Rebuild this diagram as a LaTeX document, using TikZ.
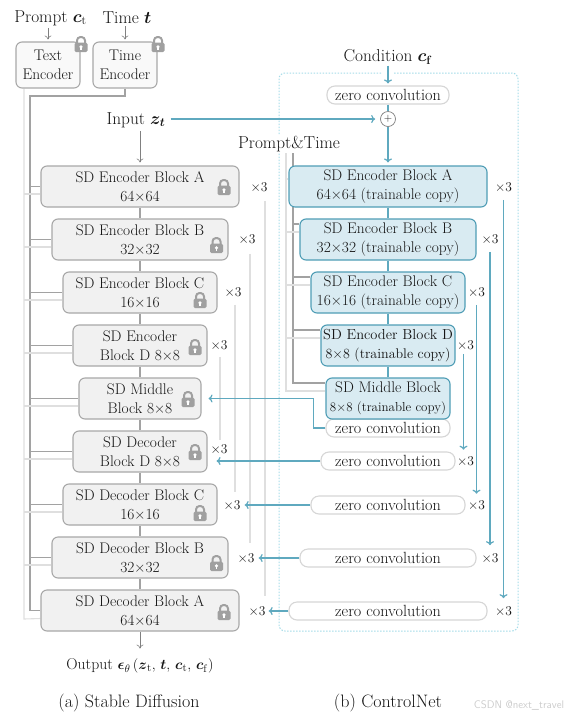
\documentclass[tikz,border=0pt]{standalone}
\usepackage{amsmath,amssymb}
\usepackage{tikz}
\usetikzlibrary{arrows,arrows.meta,backgrounds}

\definecolor{lineteal}{HTML}{5FA9BF}
\definecolor{borderteal}{HTML}{4F9DB5}
\definecolor{fillteal}{HTML}{D9EBF2}
\definecolor{dotteal}{HTML}{A5DBE8}
\definecolor{blockgray}{HTML}{F1F1F1}
\definecolor{bordergray}{HTML}{A8A8A8}
\definecolor{darkline}{HTML}{A2A2A2}
\definecolor{lightline}{HTML}{DFDFDF}
\definecolor{lockgray}{HTML}{A0A0A0}
\definecolor{zeroborder}{HTML}{D6D6D6}
\definecolor{txt}{HTML}{151515}

\begin{document}
\begin{tikzpicture}[
x=1pt,y=-1pt,
every node/.style={text=txt},
obj/.style={font=\fontsize{17.3}{20}\selectfont,inner sep=1pt},
captext/.style={font=\fontsize{18}{21}\selectfont,inner sep=1pt},
times/.style={font=\fontsize{13.5}{15}\selectfont,inner sep=0pt},
block/.style={draw=bordergray,fill=blockgray,line width=1.1pt,rounded corners=6pt,minimum width=#1,minimum height=41pt,inner sep=0pt,align=center,font=\fontsize{15.4}{19}\selectfont},
ctrl/.style={block=#1,draw=borderteal,fill=fillteal},
textenc/.style={block=64pt,minimum height=46pt,fill=white!60!blockgray},
zeroconv/.style={draw=zeroborder,fill=white,line width=1.1pt,rounded corners=8pt,minimum width=#1,minimum height=18pt,inner sep=0pt,font=\fontsize{16.2}{17}\selectfont},
arrow/.style={-{To[length=4pt,width=7pt]},draw=gray,line width=0.6pt},
tealarrow/.style={-{To[length=4pt,width=8pt]},draw=lineteal,line width=1.2pt},
tealline/.style={draw=lineteal,line width=1.2pt},
trunk/.style={draw=darkline,line width=1.1pt},
pale/.style={draw=lightline,line width=1.1pt},
pics/padlock/.style={code={
\draw[lockgray,line width=2pt,rounded corners=3.5pt] (-4,0) -- (-4,-7) -- (4,-7) -- (4,0);
\fill[lockgray,rounded corners=1.5pt] (-6.5,-1.5) rectangle (6.5,8);
\fill[white] (0,2.8) circle (1.8);
\fill[white] (-0.8,3) rectangle (0.8,6);
}}
]

\useasboundingbox (0,0) rectangle (571,716);

\node[obj](prompt) at (50.5,18) {Prompt $\boldsymbol{c}_{\mathrm{t}}$};

\node[obj](time) at (127,18) {Time $\boldsymbol{t}$};

\node[textenc](textE) at (48,65) {Text\\Encoder};

\node[textenc](timeE) at (125,65) {Time\\Encoder};

\pic at (81,44) {padlock};

\pic at (158,44) {padlock};

\node[obj](inputz) at (136,120) {Input $\boldsymbol{z_t}$};

\node[block=198pt](encA) at (140,186.5) {SD Encoder Block A\\64×64};

\node[block=176pt](encB) at (140,239.5) {SD Encoder Block B\\32×32};

\node[block=154pt](encC) at (140,292.5) {SD Encoder Block C\\16×16};

\node[block=134pt](encD) at (140,345.5) {SD Encoder\\Block D 8×8};

\node[block=122pt](mid) at (140,398.5) {SD Middle\\Block 8×8};

\node[block=134pt](decD) at (140,451.5) {SD Decoder\\Block D 8×8};

\node[block=154pt](decC) at (140,504.5) {SD Decoder Block C\\16×16};

\node[block=176pt](decB) at (140,557.5) {SD Decoder Block B\\32×32};

\node[block=198pt](decA) at (140,610.5) {SD Decoder Block A\\64×64};

\pic at (224,187) {padlock};

\pic at (216.5,245) {padlock};

\pic at (200,300) {padlock};

\pic at (195,347) {padlock};

\pic at (188,399) {padlock};

\pic at (195,452) {padlock};

\pic at (200,513) {padlock};

\pic at (216.5,563) {padlock};

\pic at (224,612) {padlock};

\node[obj,font=\fontsize{15.7}{19}\selectfont](output) at (140,666) {Output $\boldsymbol{\epsilon}_{\theta}\,(\boldsymbol{z}_{\mathrm{t}},\,\boldsymbol{t},\,\boldsymbol{c}_{\mathrm{t}},\,\boldsymbol{c}_{\mathrm{f}})$};

\node[captext](capA) at (129,703) {(a) Stable Diffusion};

\node[captext](capB) at (388,703) {(b) ControlNet};

\node[inner sep=0pt,text=lightline!80!gray,font=\sffamily\fontsize{11}{12}\selectfont](mark) at (519,705) {CSDN @next\_travel};

\node[obj](cond) at (388,57) {Condition $\boldsymbol{c}_{\mathbf{f}}$};

\node[zeroconv=122pt](zeroT) at (388,95) {zero convolution};

\node[draw=gray,fill=white,circle,inner sep=0pt,minimum size=15pt,line width=0.7pt,font=\fontsize{11}{11}\selectfont](plus) at (388,119) {+};

\node[obj,fill=white](promptT) at (289,144) {Prompt\&Time};

\node[zeroconv=124pt](zeroM) at (388,428) {zero convolution};

\node[ctrl=198pt](ctrlA) at (388,186.5) {SD Encoder Block A\\64×64 (trainable copy)};

\node[ctrl=176pt](ctrlB) at (388,239.5) {SD Encoder Block B\\32×32 (trainable copy)};

\node[ctrl=154pt](ctrlC) at (388,292.5) {SD Encoder Block C\\16×16 (trainable copy)};

\node[ctrl=134pt,font=\fontsize{14.5}{19}\selectfont](ctrlD) at (388,345.5) {SD Encoder Block D\\{\fontsize{14}{19}\selectfont 8×8 (trainable copy)}};

\node[ctrl=124pt](ctrlM) at (388,398.5) {SD Middle Block\\{\fontsize{13}{15}\selectfont 8×8 (trainable copy)}};

\node[zeroconv=134pt](zeroD) at (388,461) {zero convolution};

\node[zeroconv=154pt](zeroC) at (388,505) {zero convolution};

\node[zeroconv=176pt](zeroB) at (388,558) {zero convolution};

\node[zeroconv=198pt](zeroA) at (388,611) {zero convolution};

\node[times](xEncA) at (259,187) {×3};

\node[times](xEncB) at (247,239) {×3};

\node[times](xEncC) at (233,292) {×3};

\node[times](xEncD) at (219,345) {×3};

\node[times](xDecD) at (219,449) {×3};

\node[times](xDecC) at (232,505) {×3};

\node[times](xDecB) at (246,558) {×3};

\node[times](xDecA) at (257,611) {×3};

\node[times](xCtrlA) at (503.5,187) {×3};

\node[times](xCtrlB) at (490,239) {×3};

\node[times](xCtrlC) at (476.5,292) {×3};

\node[times](xCtrlD) at (465.5,345) {×3};

\node[times](xZeroD) at (465.5,461) {×3};

\node[times](xZeroC) at (476.5,505) {×3};

\node[times](xZeroB) at (490,558) {×3};

\node[times](xZeroA) at (503.5,611) {×3};

% trunks stay behind the blocks
\begin{scope}[on background layer]

\draw[dotteal,line width=1pt,dash pattern=on 1.5pt off 1.5pt,rounded corners=6pt] (394,73) -- (518,73) -- (518,631) -- (279,631) -- (279,73) -- (382,73);

\coordinate (darkT) at (30,96);

\coordinate (lightT) at (24,619);

\coordinate (darkC) at (293,153);

\coordinate (lightC) at (286,153);

\draw[trunk] (timeE.south) |- (darkT) |- (decA.west);

\draw[pale] (textE.south -| lightT) -- (lightT) -- ([yshift=-8pt]decA.west);

\draw[trunk] (darkT |- encA.west) -- (encA.west);

\draw[trunk] (darkT |- encB.west) -- (encB.west);

\draw[trunk] (darkT |- encC.west) -- (encC.west);

\draw[trunk] (darkT |- encD.west) -- (encD.west);

\draw[trunk] (darkT |- mid.west) -- (mid.west);

\draw[trunk] (darkT |- decD.west) -- (decD.west);

\draw[trunk] (darkT |- decC.west) -- (decC.west);

\draw[trunk] (darkT |- decB.west) -- (decB.west);

\draw[pale] ([yshift=-7.5pt]lightT |- encA.west) -- ([yshift=-7.5pt]encA.west);

\draw[pale] ([yshift=-7.5pt]lightT |- encB.west) -- ([yshift=-7.5pt]encB.west);

\draw[pale] ([yshift=-7.5pt]lightT |- encC.west) -- ([yshift=-7.5pt]encC.west);

\draw[pale] ([yshift=-7.5pt]lightT |- encD.west) -- ([yshift=-7.5pt]encD.west);

\draw[pale] ([yshift=-7.5pt]lightT |- mid.west) -- ([yshift=-7.5pt]mid.west);

\draw[pale] ([yshift=-7.5pt]lightT |- decD.west) -- ([yshift=-7.5pt]decD.west);

\draw[pale] ([yshift=-7.5pt]lightT |- decC.west) -- ([yshift=-7.5pt]decC.west);

\draw[pale] ([yshift=-7.5pt]lightT |- decB.west) -- ([yshift=-7.5pt]decB.west);

\draw[trunk] (encA) -- (encB);

\draw[trunk] (encB) -- (encC);

\draw[trunk] (encC) -- (encD);

\draw[trunk] (encD) -- (mid);

\draw[trunk] (mid) -- (decD);

\draw[trunk] (decD) -- (decC);

\draw[trunk] (decC) -- (decB);

\draw[trunk] (decB) -- (decA);

\draw[trunk] (darkC) |- ([yshift=15.5pt]ctrlM.west);

\draw[pale] (lightC) |- ([yshift=7.5pt]ctrlM.west);

\draw[trunk] ([yshift=15.5pt]darkC |- ctrlB.west) -- ([yshift=15.5pt]ctrlB.west);

\draw[trunk] ([yshift=15.5pt]darkC |- ctrlC.west) -- ([yshift=15.5pt]ctrlC.west);

\draw[trunk] ([yshift=15.5pt]darkC |- ctrlD.west) -- ([yshift=15.5pt]ctrlD.west);

\draw[pale] ([yshift=7.5pt]lightC |- ctrlA.west) -- ([yshift=7.5pt]ctrlA.west);

\draw[pale] ([yshift=7.5pt]lightC |- ctrlB.west) -- ([yshift=7.5pt]ctrlB.west);

\draw[pale] ([yshift=7.5pt]lightC |- ctrlC.west) -- ([yshift=7.5pt]ctrlC.west);

\draw[pale] ([yshift=7.5pt]lightC |- ctrlD.west) -- ([yshift=7.5pt]ctrlD.west);

\draw[pale,shorten <=9pt,shorten >=10pt] ([xshift=6pt]xEncA.south) -- ([xshift=8pt]xDecA.north);

\draw[pale,shorten <=10pt,shorten >=10pt] ([xshift=3pt]xEncB.south) -- ([xshift=4pt]xDecB.north);

\draw[pale,shorten <=8pt,shorten >=8pt] ([xshift=2pt]xEncC.south) -- ([xshift=3pt]xDecC.north);

\draw[pale,shorten <=7pt,shorten >=4pt] ([xshift=1pt]xEncD.south) -- ([xshift=1pt]xDecD.north);

\draw[tealline] (ctrlA) -- (ctrlB);

\draw[tealline] (ctrlB) -- (ctrlC);

\draw[tealline] (ctrlC) -- (ctrlD);

\draw[tealline] (ctrlD) -- (ctrlM);

\end{scope}

\draw[arrow,shorten <=1pt,shorten >=2pt] (prompt.south -| textE) -- (textE);

\draw[arrow,shorten <=1pt,shorten >=2pt] (time.south -| timeE) -- (timeE);

\draw[arrow,shorten <=2pt,shorten >=3pt] (inputz.south -| encA) -- (encA);

\draw[arrow,shorten >=9pt] (decA) -- (output);

\draw[tealarrow,shorten <=4pt,shorten >=5pt] (inputz.east |- plus) -- (plus);

\draw[tealarrow,shorten >=2pt] (cond) -- (zeroT);

\draw[tealline] (zeroT) -- (plus);

\draw[tealarrow,shorten >=3pt] (plus) -- (ctrlA);

\draw[tealarrow] (zeroM.west) -- ++(-12,0) |- ([xshift=7pt]mid.east);

\draw[tealarrow] (zeroD) -- ([xshift=9pt]decD.east |- zeroD);

\draw[tealarrow] (zeroC) -- ([xshift=4pt]xDecC.east);

\draw[tealarrow] (zeroB) -- ([xshift=4pt]xDecB.east);

\draw[tealarrow] (zeroA) -- ([xshift=3pt]xDecA.east);

\draw[tealarrow,shorten <=8pt,shorten >=8pt] (xCtrlA.south) -- (xZeroA.north);

\draw[tealarrow,shorten <=8pt,shorten >=8pt] (xCtrlB.south) -- (xZeroB.north);

\draw[tealarrow,shorten <=8pt,shorten >=6.5pt] (xCtrlC.south) -- (xZeroC.north);

\draw[tealarrow,shorten <=4pt,shorten >=6.5pt] ([xshift=-2pt]xCtrlD.south) -- ([xshift=-2pt]xZeroD.north);

\end{tikzpicture}
\end{document}
